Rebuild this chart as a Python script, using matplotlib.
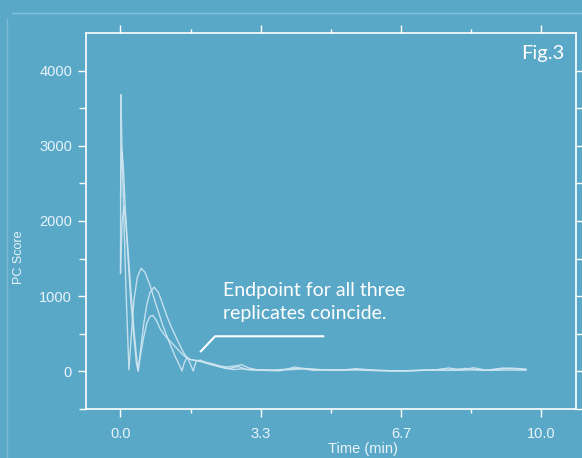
import matplotlib
matplotlib.use('Agg')
import matplotlib.pyplot as plt
from matplotlib.lines import Line2D

# replicate traces (time in min, PC score)
t_rep1 = [0.0, 0.01, 0.03, 0.08, 0.13, 0.17, 0.2, 0.25, 0.32, 0.4, 0.49, 0.58, 0.7, 0.85, 1.0,
          1.15, 1.3, 1.42, 1.46, 1.52, 1.59, 1.66, 1.73, 1.8, 1.9, 2.0, 2.2, 2.35, 2.52, 2.7,
          2.88, 3.05, 3.24, 3.5, 3.79, 3.95, 4.15, 4.35, 4.59, 4.9, 5.38, 5.6, 6.0, 6.57, 7.0,
          7.5, 7.8, 8.1, 8.4, 8.7, 9.1, 9.4, 9.64]
y_rep1 = [1320, 3680, 3100, 2050, 1100, 480, 20, 420, 950, 1250, 1370, 1320, 1150, 880, 620,
          400, 200, 60, 5, 120, 190, 100, 5, 140, 150, 125, 100, 75, 58, 70,
          89, 45, 22, 12, 8, 30, 58, 35, 13, 20, 22, 36, 18, 6, 12,
          22, 45, 20, 48, 15, 45, 32, 26]

t_rep2 = [0.0, 0.02, 0.04, 0.07, 0.12, 0.18, 0.25, 0.32, 0.38, 0.42, 0.48, 0.55, 0.62, 0.7,
          0.8, 0.9, 1.0, 1.1, 1.2, 1.3, 1.4, 1.5, 1.57, 1.65, 1.73, 1.8, 1.9, 2.05, 2.2, 2.4,
          2.6, 2.8, 3.0, 3.3, 3.6, 4.0, 4.3, 4.7, 5.1, 5.5, 6.0, 6.5, 7.0, 7.4, 7.8, 8.2, 8.6,
          9.0, 9.3, 9.64]
y_rep2 = [2320, 2900, 2920, 2700, 2100, 1500, 900, 450, 100, 5, 300, 620, 870, 1050,
          1120, 1050, 900, 740, 600, 480, 360, 250, 190, 160, 150, 145, 135, 110, 85, 55,
          40, 65, 25, 22, 18, 30, 42, 25, 18, 26, 14, 8, 10, 18, 14, 40, 13,
          30, 44, 30]

t_rep3 = [0.0, 0.04, 0.08, 0.12, 0.18, 0.25, 0.32, 0.38, 0.42, 0.47, 0.55, 0.63, 0.7, 0.77,
          0.85, 0.95, 1.05, 1.15, 1.25, 1.35, 1.45, 1.55, 1.65, 1.75, 1.85, 1.95, 2.1, 2.3,
          2.5, 2.7, 2.9, 3.1, 3.4, 3.7, 4.0, 4.4, 4.8, 5.2, 5.6, 6.1, 6.6, 7.1, 7.6, 8.0,
          8.4, 8.8, 9.2, 9.64]
y_rep3 = [1300, 2000, 2190, 2050, 1600, 1050, 550, 200, 5, 200, 450, 650, 730, 745,
          680, 560, 480, 420, 360, 300, 240, 190, 160, 150, 140, 125, 100, 70,
          40, 25, 35, 20, 16, 14, 22, 35, 20, 15, 20, 10, 6, 14, 20, 15,
          20, 14, 18, 15]

x_ticks = [0.0, 10 / 3, 20 / 3, 10.0]
x_ticklabels = ['0.0', '3.3', '6.7', '10.0']
y_ticks = [0, 1000, 2000, 3000, 4000]

bg = '#5aa8c8'
fg = '#ffffff'
txt = '#e9f4f9'
line_col = '#cfe6f1'

fig = plt.figure(figsize=(5.82, 4.58), dpi=100)
fig.patch.set_facecolor(bg)
ax = fig.add_axes([86 / 582, 1 - 409 / 458, 490 / 582, 376 / 458])
ax.set_facecolor(bg)

for t, y in [(t_rep1, y_rep1), (t_rep2, y_rep2), (t_rep3, y_rep3)]:
    ax.plot(t, y, color=line_col, lw=1.0, alpha=0.9)

ax.set_xlim(-0.82, 10.83)
ax.set_ylim(-500, 4500)
ax.set_xticks(x_ticks)
ax.set_xticklabels(x_ticklabels)
ax.set_xticks([5 / 3, 5.0, 25 / 3], minor=True)
ax.set_yticks(y_ticks)
ax.set_yticks([-500, 500, 1500, 2500, 3500], minor=True)

for s in ax.spines.values():
    s.set_color(fg)
    s.set_linewidth(1.2)

ax.tick_params(which='both', direction='out', color=fg, width=1.0,
               top=True, right=True, labeltop=False, labelright=False)
ax.tick_params(axis='x', which='major', length=6, pad=7,
               labelsize=10.5, labelcolor=txt)
ax.tick_params(axis='x', which='minor', length=3)
ax.tick_params(axis='y', which='major', length=6, pad=4,
               labelsize=10.5, labelcolor=txt)
ax.tick_params(axis='y', which='minor', length=5)
for lab in ax.get_xticklabels() + ax.get_yticklabels():
    lab.set_family('Liberation Sans')

fig.text(363 / 582, 1 - 449 / 458, 'Time (min)', ha='center', va='center',
         color=txt, fontsize=10.5, family='Liberation Sans')
fig.text(19 / 582, 1 - 257 / 458, 'PC Score', ha='center', va='center',
         rotation=90, color=txt, fontsize=9, family='Liberation Sans')

# annotation
ax.plot([1.91, 2.25, 4.82], [267, 467, 467], color=fg, lw=1.5)
ax.text(2.44, 1190, 'Endpoint for all three\nreplicates coincide.', ha='left', va='top',
        color=fg, fontsize=14, family='Lato', linespacing=1.45)
ax.text(0.9755, 0.968, 'Fig.3', transform=ax.transAxes, ha='right', va='top',
        color=fg, fontsize=14.5, family='Lato')

# faint outer frame
fig.add_artist(Line2D([12 / 582, 1.0], [1 - 13 / 458, 1 - 13 / 458],
                      transform=fig.transFigure, color='#86c2db', lw=1))
fig.add_artist(Line2D([7 / 582, 7 / 582], [0, 1 - 19 / 458],
                      transform=fig.transFigure, color='#7bbbd6', lw=1))

plt.savefig('out.png', dpi=100, facecolor=bg)
